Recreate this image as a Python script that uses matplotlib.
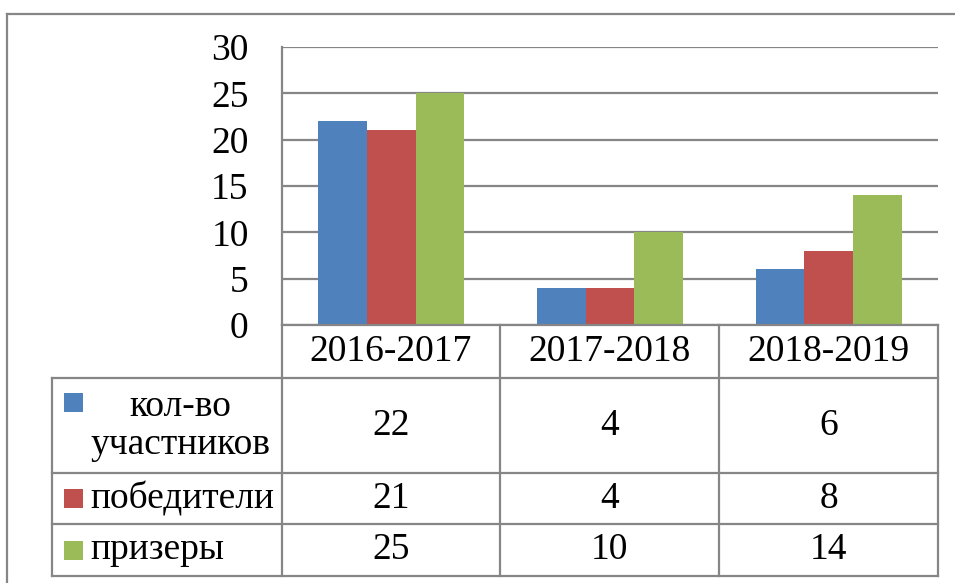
import numpy as np
import matplotlib
matplotlib.use("Agg")
import matplotlib.pyplot as plt

years = ["2016-2017", "2017-2018", "2018-2019"]
series_names = ["кол-во\nучастников", "победители", "призеры"]
participants = [22, 4, 6]
winners = [21, 4, 8]
prizewinners = [25, 10, 14]
colors = ["#4F81BD", "#C0504D", "#9BBB59"]
yticks = [0, 5, 10, 15, 20, 25, 30]

W, H = 955, 583
GRID = "#868686"
FONT = "Liberation Serif"
FS = 27

plt.rcParams["font.family"] = FONT

fig = plt.figure(figsize=(W / 100, H / 100), dpi=100)


def fx(x):
    return x / W


def fy(y):
    return 1 - y / H


# plot area in pixels
left, right, top, bottom = 282, 938, 47, 325
ax = fig.add_axes([fx(left), fy(bottom), fx(right) - fx(left), fy(top) - fy(bottom)])

data = [participants, winners, prizewinners]
n = len(years)
bw = 1 / 4.5
x = np.arange(n) + 0.5
for i, vals in enumerate(data):
    ax.bar(x + (i - 1) * bw, vals, width=bw, color=colors[i], zorder=3)

ax.set_xlim(0, n)
ax.set_ylim(0, 30)
ax.set_yticks(yticks)
ax.set_yticklabels([str(t) for t in yticks], fontsize=FS, family=FONT)
ax.tick_params(axis="y", length=0, pad=24)
ax.set_xticks([])
ax.yaxis.grid(True, color=GRID, linewidth=1.6, zorder=0)
for s in ["top", "right", "bottom"]:
    ax.spines[s].set_visible(False)
ax.spines["left"].set_color(GRID)
ax.spines["left"].set_linewidth(1.6)

# overlay axes in pixel coords for the data table and outer frame
ov = fig.add_axes([0, 0, 1, 1], facecolor="none")
ov.set_xlim(0, W)
ov.set_ylim(H, 0)
ov.axis("off")

lw = 1.6
# outer chart frame
ov.plot([7, 7], [14, H], color=GRID, lw=lw)
ov.plot([7, W], [14, 14], color=GRID, lw=lw)

col_x = [left, 500, 719, right]
row_y = [bottom, 378, 473, 524, 576]
tab_left = 52

# horizontal lines
ov.plot([left, right], [row_y[0], row_y[0]], color=GRID, lw=lw)
for y in row_y[1:]:
    ov.plot([tab_left, right], [y, y], color=GRID, lw=lw)
# vertical lines
ov.plot([tab_left, tab_left], [row_y[1], row_y[-1]], color=GRID, lw=lw)
for cx in col_x:
    ov.plot([cx, cx], [row_y[0], row_y[-1]], color=GRID, lw=lw)

# header row with categories
for j, yr in enumerate(years):
    cx = (col_x[j] + col_x[j + 1]) / 2
    ov.text(cx, (row_y[0] + row_y[1]) / 2, yr, ha="center", va="center",
            fontsize=FS, family=FONT)

# series rows
for i, vals in enumerate(data):
    cy = (row_y[i + 1] + row_y[i + 2]) / 2
    ov.text(90, cy, series_names[i], ha="left", va="center", multialignment="center",
            fontsize=FS, family=FONT, linespacing=1.12)
    sq_y = 402 if i == 0 else cy
    ov.add_patch(plt.Rectangle((64, sq_y - 9.5), 19, 19, color=colors[i], lw=0))
    for j, v in enumerate(vals):
        cx = (col_x[j] + col_x[j + 1]) / 2
        ov.text(cx, cy, str(v), ha="center", va="center", fontsize=FS, family=FONT)

fig.savefig("out.png", dpi=100)
